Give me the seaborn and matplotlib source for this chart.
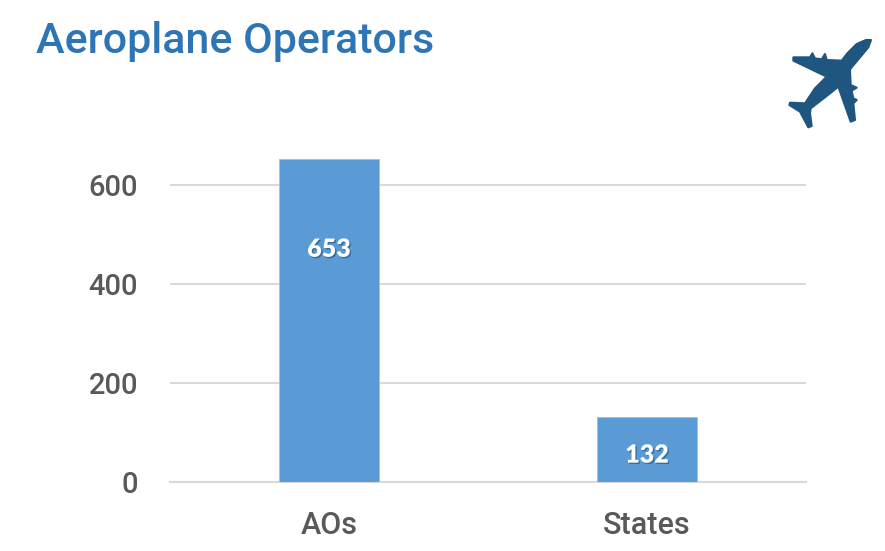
import matplotlib
matplotlib.use('Agg')
import matplotlib.pyplot as plt
import matplotlib.patheffects as pe
from matplotlib.patches import Polygon
import pandas as pd
import seaborn as sns

# datos
categories = ['AOs', 'States']
values = [653, 132]
y_ticks = [0, 200, 400, 600]

W, H = 885, 551

sns.set_theme(style='white')
plt.rcParams['font.family'] = ['Roboto', 'DejaVu Sans']

df = pd.DataFrame({'group': categories, 'count': values})

fig = plt.figure(figsize=(W / 100, H / 100), dpi=100)
# ejes en pixeles: x 170-806, y 0 en 482
ax = fig.add_axes([170 / W, 1 - 482 / H, 636 / W, (482 - 136) / H])

sns.barplot(data=df, x='group', y='count', color='#5B9BD5', saturation=1,
            width=0.314, edgecolor='#9DC3E6', linewidth=0.7, ax=ax, zorder=3)

ax.set_xlim(-0.5, 1.5)
ax.set_ylim(0, 346 / 0.495)
ax.set_yticks(y_ticks)
ax.set_xlabel('')
ax.set_ylabel('')
ax.grid(axis='y', color='#D9D9D9', linewidth=1.5, zorder=0)
ax.set_axisbelow(True)
for s in ['top', 'right', 'left']:
    ax.spines[s].set_visible(False)
ax.spines['bottom'].set_color('#D9D9D9')
ax.spines['bottom'].set_linewidth(1.5)
ax.tick_params(axis='y', length=0, pad=23, labelsize=21, labelcolor='#595959')
ax.tick_params(axis='x', length=0, pad=21, labelsize=22, labelcolor='#595959')
for lab in ax.get_xticklabels() + ax.get_yticklabels():
    lab.set_fontweight('medium')

# etiquetas blancas con sombra
offsets = [-91, -39]
for i, v in enumerate(values):
    ax.annotate(str(v), xy=(i, v), xytext=(0, offsets[i] * 0.72),
                textcoords='offset points', ha='center', va='center',
                fontsize=18, fontweight='heavy', family=['Lato', 'DejaVu Sans'], color='white', zorder=5,
                path_effects=[pe.withSimplePatchShadow(offset=(1, -1), shadow_rgbFace='#1F4E79', alpha=0.6)])

fig.text(36 / W, 1 - 41 / H, 'Aeroplane Operators', color='#2E75B6', fontsize=31,
         fontweight='medium', va='center', ha='left')

# icono del avion, en pixeles de la figura
plane = [(333, 60), (325, 82), (300, 112), (270, 148), (272, 195), (290, 203), (275, 212),
         (280, 235), (290, 240), (280, 250), (285, 300), (272, 305), (235, 200), (200, 228),
         (152, 265), (150, 280), (155, 318), (145, 322), (120, 275), (88, 255), (90, 248),
         (135, 250), (165, 205), (200, 170), (100, 122), (100, 112), (150, 112), (157, 100),
         (165, 115), (185, 118), (195, 102), (200, 120), (245, 122), (262, 100), (290, 72), (318, 60)]
pts = [((760 + x / 3) / W, 1 - (20 + y / 3) / H) for x, y in plane]
fig.add_artist(Polygon(pts, closed=True, transform=fig.transFigure, facecolor='#1F567F',
                       edgecolor='#1F567F', linewidth=1.5, joinstyle='round'))

fig.savefig('out.png', dpi=100, facecolor='white')
